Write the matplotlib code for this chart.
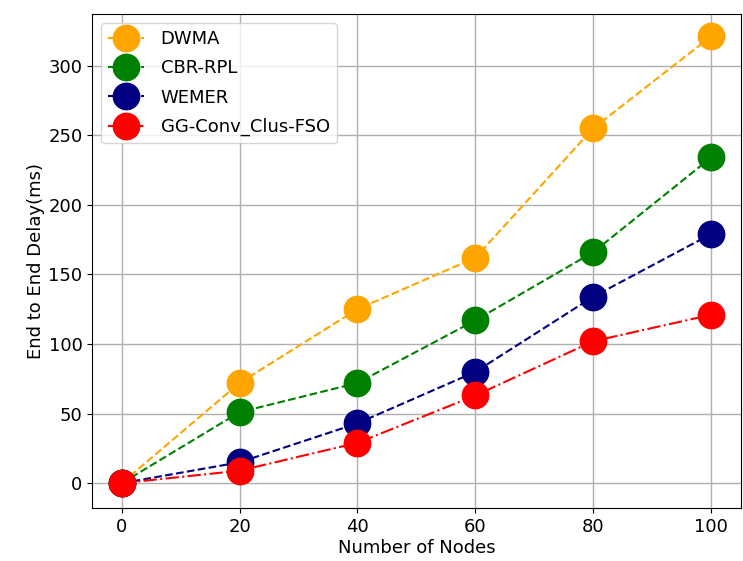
import numpy as np
import matplotlib
matplotlib.use('Agg')
import matplotlib.pyplot as plt

nodes = [0, 20, 40, 60, 80, 100]
dwma = [0, 72, 125, 162, 255, 321]
cbr_rpl = [0, 51, 72, 117, 166, 234]
wemer = [0, 15, 43, 80, 134, 179]
gg_conv = [0, 9, 29, 63, 102, 121]

fig, ax = plt.subplots(figsize=(7.43, 5.61), dpi=100)
fig.subplots_adjust(left=0.124, right=0.997, top=0.975, bottom=0.094)

ax.plot(nodes, dwma, '--o', color='orange', markersize=19, lw=1.5, label='DWMA')
ax.plot(nodes, cbr_rpl, '--o', color='green', markersize=19, lw=1.5, label='CBR-RPL')
ax.plot(nodes, wemer, '--o', color='navy', markersize=19, lw=1.5, label='WEMER')
ax.plot(nodes, gg_conv, '-.o', color='red', markersize=19, lw=1.5, label='GG-Conv_Clus-FSO')

ax.set_xlabel('Number of Nodes', fontsize=13, labelpad=2)
ax.set_ylabel('End to End Delay(ms)', fontsize=13, labelpad=2)
ax.set_xticks(nodes)
ax.set_yticks([0, 50, 100, 150, 200, 250, 300])
ax.set_ylim(-18, 337)
ax.tick_params(labelsize=13)
ax.grid(True, color='#b0b0b0', lw=1)
ax.legend(loc='upper left', fontsize=13, handletextpad=0.9, labelspacing=0.62)

fig.savefig('out.png', dpi=100)
